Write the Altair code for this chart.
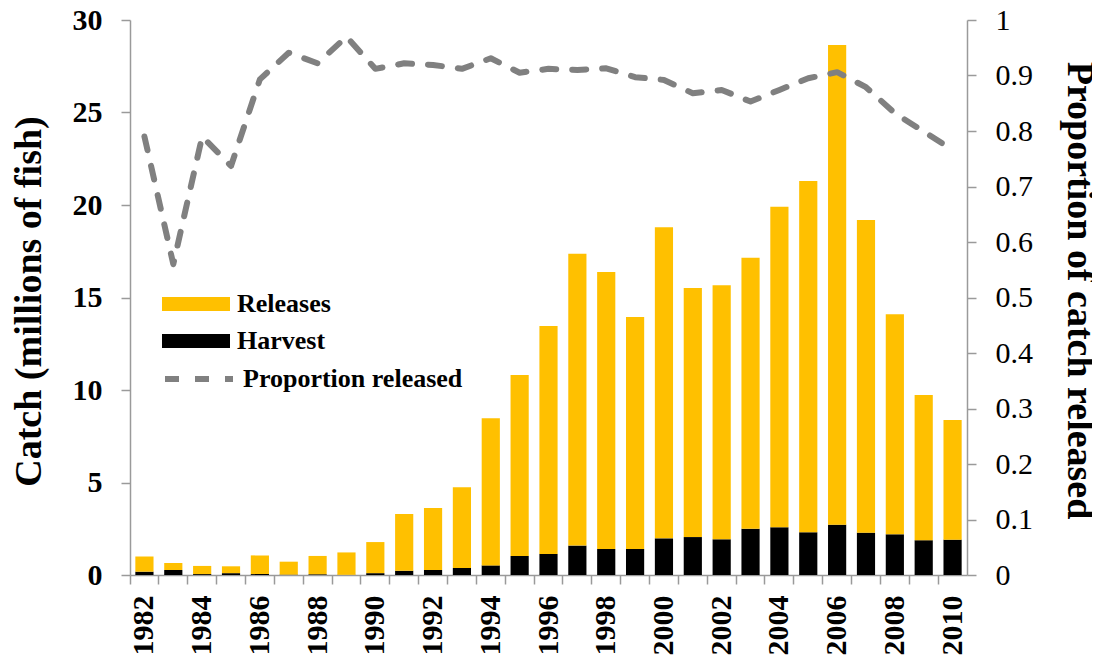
import altair as alt
import pandas as pd

years = [str(y) for y in range(1982, 2011)]
harvest = [0.18, 0.27, 0.05, 0.10, 0.05, 0.02, 0.04, 0.01, 0.10, 0.23,
           0.27, 0.38, 0.52, 1.03, 1.14, 1.59, 1.41, 1.41, 1.98, 2.05,
           1.93, 2.50, 2.58, 2.31, 2.72, 2.29, 2.20, 1.88, 1.91]
releases = [0.82, 0.38, 0.44, 0.37, 1.01, 0.70, 0.99, 1.21, 1.68, 3.07,
            3.35, 4.36, 7.95, 9.78, 12.32, 15.78, 14.97, 12.54, 16.82, 13.46,
            13.73, 14.65, 17.33, 18.99, 25.93, 16.90, 11.89, 7.85, 6.47]
proportion = [0.79, 0.56, 0.79, 0.737, 0.893, 0.941, 0.922, 0.97, 0.912, 0.922,
              0.919, 0.912, 0.931, 0.905, 0.912, 0.91, 0.913, 0.897, 0.892, 0.868,
              0.874, 0.853, 0.874, 0.895, 0.906, 0.879, 0.832, 0.799, 0.766]
series_names = ["Releases", "Harvest"]
series_colors = ["#FFC000", "#000000"]
line_name = "Proportion released"
left_ticks = [0, 5, 10, 15, 20, 25, 30]
right_ticks = [0, 0.1, 0.2, 0.3, 0.4, 0.5, 0.6, 0.7, 0.8, 0.9, 1.0]

rows = []
for i, y in enumerate(years):
    rows.append({"year": y, "series": "Harvest", "value": harvest[i], "ord": 0})
    rows.append({"year": y, "series": "Releases", "value": releases[i], "ord": 1})
bars_df = pd.DataFrame(rows)
line_df = pd.DataFrame({"year": years, "prop": proportion, "lab": [line_name] * len(years)})

FONT = "Liberation Serif, Times New Roman, serif"
GRAY = "#9A9A9A"
W, H = 837, 555

x_enc = alt.X(
    "year:O", sort=years,
    scale=alt.Scale(paddingInner=0, paddingOuter=0),
    axis=alt.Axis(
        title=None, bandPosition=0, labelAngle=270,
        labelExpr="parseInt(datum.value) % 2 == 0 ? datum.value : ''",
        labelFont=FONT, labelFontSize=30, labelFontWeight="bold", labelColor="#000000",
        tickSize=9, tickColor=GRAY, tickWidth=1.5, domainColor=GRAY, domainWidth=1.5,
        labelPadding=11,
    ),
)

bars = alt.Chart(bars_df).mark_bar(width=alt.RelativeBandSize(0.63)).encode(
    x=x_enc,
    y=alt.Y(
        "value:Q", stack="zero",
        scale=alt.Scale(domain=[0, 30], nice=False),
        axis=alt.Axis(
            title="Catch (millions of fish)", values=left_ticks, grid=False,
            labelFont=FONT, labelFontSize=30, labelFontWeight="bold", labelColor="#000000",
            labelPadding=19, tickSize=9, tickColor=GRAY, tickWidth=1.5,
            domainColor=GRAY, domainWidth=1.5,
            titleFont=FONT, titleFontSize=38, titleFontWeight="bold", titleColor="#000000",
            titleX=-90, titleY=281, titleAngle=270, titleBaseline="alphabetic", titleAlign="center",
        ),
    ),
    color=alt.Color(
        "series:N",
        scale=alt.Scale(domain=series_names, range=series_colors),
        legend=alt.Legend(
            title=None, orient="none", legendX=32, legendY=271, padding=0,
            symbolType="M-1,-0.206H1V0.206H-1Z", symbolSize=4624, symbolStrokeWidth=0,
            symbolOpacity=1, labelFont=FONT, labelFontSize=26, labelFontWeight="bold",
            labelColor="#000000", labelOffset=7, rowPadding=11, clipHeight=26,
            labelLimit=400,
        ),
    ),
    order=alt.Order("ord:Q", sort="ascending"),
)

line = alt.Chart(line_df).mark_line(
    color="#808080", strokeWidth=6, strokeCap="round", strokeJoin="round"
).encode(
    x=x_enc,
    y=alt.Y(
        "prop:Q",
        scale=alt.Scale(domain=[0, 1], nice=False),
        axis=alt.Axis(
            orient="right", title="Proportion of catch released", values=right_ticks,
            format="~g", grid=False,
            labelFont=FONT, labelFontSize=30, labelFontWeight="normal", labelColor="#000000",
            labelPadding=19, tickSize=9, tickColor=GRAY, tickWidth=1.5,
            domainColor=GRAY, domainWidth=1.5,
            titleFont=FONT, titleFontSize=38, titleFontWeight="bold", titleColor="#000000",
            titleX=100, titleY=270, titleAngle=90, titleBaseline="alphabetic", titleAlign="center",
        ),
    ),
    strokeDash=alt.StrokeDash(
        "lab:N",
        scale=alt.Scale(domain=[line_name], range=[[14, 16]]),
        legend=alt.Legend(
            title=None, orient="none", legendX=32, legendY=346, padding=0,
            symbolType="stroke", symbolSize=4624, symbolStrokeWidth=6,
            symbolStrokeColor="#808080", clipHeight=26,
            labelFont=FONT, labelFontSize=26, labelFontWeight="bold",
            labelColor="#000000", labelOffset=7, labelLimit=400,
        ),
    ),
)

chart = alt.layer(bars, line).resolve_scale(y="independent").properties(
    width=W, height=H,
    autosize=alt.AutoSizeParams(type="none"),
    padding={"left": 122, "top": 12, "right": 125, "bottom": 86},
    background="#FFFFFF",
).configure_view(stroke=None)

chart.save("out.html", embed_options={"renderer": "svg", "actions": False})
